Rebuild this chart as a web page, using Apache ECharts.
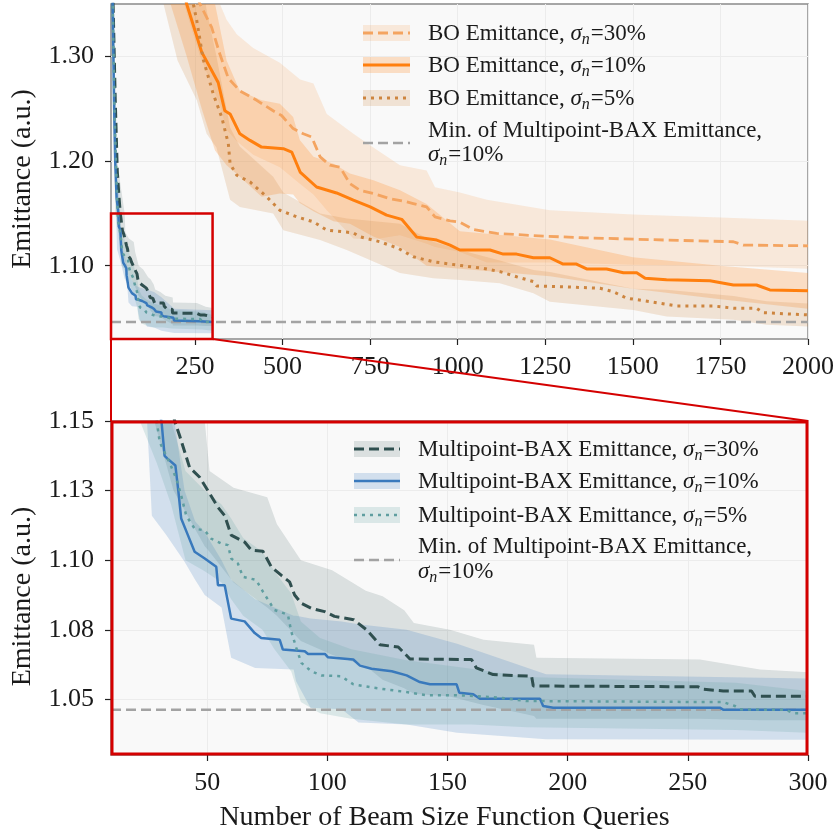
<!DOCTYPE html>
<html><head><meta charset="utf-8">
<script src="https://cdn.jsdelivr.net/npm/echarts@6/dist/echarts.min.js"></script>
<style>html,body{margin:0;padding:0;background:#fff}#c{width:834px;height:833px}</style>
</head><body><div id="c"></div>
<script>
// ---------- axes ----------
const xTopRange = [10, 2000];
const yTopRange = [1.03, 1.35];
const xBotRange = [10, 300];
const yBotRange = [1.03, 1.15];
const xTopTicks = [250, 500, 750, 1000, 1250, 1500, 1750, 2000];
const xTopTickLabels = ['250', '500', '750', '1000', '1250', '1500', '1750', '2000'];
const yTopTicks = [1.10, 1.20, 1.30];
const yTopTickLabels = ['1.10', '1.20', '1.30'];
const xBotTicks = [50, 100, 150, 200, 250, 300];
const xBotTickLabels = ['50', '100', '150', '200', '250', '300'];
const yBotTicks = [1.05, 1.075, 1.10, 1.125, 1.15];
const yBotTickLabels = ['1.05', '1.08', '1.10', '1.13', '1.15'];
const minEmittance = 1.0463;

// ---------- BO mean curves [queries, emittance] ----------
const bo30 = [[240,1.37],[264,1.35],[297,1.328],[321,1.302],[345,1.279],[378,1.267],[426,1.258],[473,1.248],[497,1.2435],[530,1.231],[559,1.226],[583,1.223],[607,1.204],[635,1.196],[664,1.194],[692,1.1785],[721,1.172],[759,1.169],[807,1.164],[854,1.161],[873,1.1594],[911,1.1562],[935,1.1467],[978,1.1429],[1006,1.1416],[1044,1.1347],[1111,1.1308],[1244,1.1283],[1358,1.1267],[1596,1.1245],[1787,1.1229],[1815,1.1197],[2000,1.119]];
const bo10 = [[205,1.38],[226,1.35],[269,1.304],[316,1.275],[335,1.248],[350,1.245],[378,1.226],[407,1.2197],[440,1.2133],[502,1.2118],[526,1.2086],[550,1.1895],[597,1.1752],[654,1.1695],[702,1.1626],[750,1.1562],[797,1.1483],[840,1.1443],[883,1.1273],[940,1.1245],[978,1.1197],[1006,1.115],[1092,1.115],[1130,1.1111],[1168,1.1111],[1216,1.1076],[1263,1.1076],[1301,1.1016],[1339,1.1016],[1368,1.0969],[1425,1.0969],[1473,1.0933],[1511,1.0933],[1535,1.088],[1596,1.0865],[1720,1.0857],[1787,1.0816],[1853,1.0816],[1891,1.0769],[2000,1.076]];
const bo5 = [[235,1.38],[245,1.35],[255,1.334],[273,1.2975],[302,1.264],[326,1.242],[345,1.2166],[350,1.1975],[369,1.1864],[407,1.18],[455,1.1657],[492,1.153],[540,1.1467],[588,1.1419],[626,1.134],[702,1.1314],[721,1.1276],[778,1.1229],[830,1.1166],[873,1.1086],[930,1.1038],[997,1.1007],[1073,1.0975],[1121,1.0943],[1168,1.0895],[1216,1.0848],[1225,1.0807],[1292,1.08],[1406,1.0785],[1444,1.0752],[1482,1.069],[1549,1.0657],[1625,1.0616],[1730,1.0616],[1787,1.0594],[1853,1.0594],[1872,1.0552],[2000,1.053]];

// ---------- BO bands ----------
const bo30BandX  = [200,264,321,340,369,416,492,550,588,626,702,759,835,911,935,1006,1083,1263,1500,1750,2000];
const bo30BandUp = [1.45,1.40,1.35,1.335,1.321,1.308,1.294,1.278,1.274,1.245,1.226,1.213,1.196,1.191,1.175,1.170,1.163,1.153,1.149,1.146,1.143];
const bo30BandLo = [1.37,1.30,1.254,1.23,1.219,1.206,1.194,1.178,1.168,1.153,1.126,1.125,1.129,1.121,1.118,1.113,1.103,1.103,1.101,1.100,1.097];
const bo10BandX  = [180,226,269,307,340,378,440,492,530,549,588,645,692,759,835,911,1006,1263,1500,1750,2000];
const bo10BandUp = [1.50,1.42,1.38,1.35,1.296,1.267,1.258,1.2547,1.242,1.22,1.204,1.1975,1.188,1.1816,1.172,1.159,1.133,1.125,1.108,1.10,1.093];
const bo10BandLo = [1.35,1.30,1.25,1.21,1.196,1.185,1.166,1.169,1.168,1.16,1.152,1.1425,1.14,1.128,1.118,1.10,1.097,1.09,1.078,1.068,1.059];
const bo5BandX  = [160,200,255,283,311,350,378,473,502,607,683,835,930,1006,1120,1216,1263,1501,1596,1787,1882,2000];
const bo5BandUp = [1.50,1.46,1.41,1.344,1.30,1.232,1.214,1.185,1.17,1.15,1.145,1.14,1.123,1.115,1.105,1.096,1.094,1.078,1.077,1.071,1.066,1.064];
const bo5BandLo = [1.35,1.296,1.258,1.226,1.213,1.163,1.156,1.150,1.134,1.1245,1.115,1.093,1.088,1.0864,1.0832,1.0737,1.0657,1.0578,1.0514,1.0483,1.0435,1.042];

// ---------- Multipoint-BAX mean curves ----------
const mp30 = [[10,1.48],[16,1.35],[22,1.26],[28,1.19],[33,1.165],[36.5,1.15],[38.6,1.1446],[42.7,1.1333],[46.9,1.1298],[50.3,1.125],[54.5,1.119],[57.3,1.116],[60,1.109],[65.6,1.1065],[68.4,1.1036],[73.2,1.1032],[76.7,1.0976],[80.8,1.0946],[84.3,1.0922],[86.4,1.0875],[89.2,1.0845],[93.3,1.0827],[98.9,1.0815],[103,1.0798],[111,1.0786],[116.3,1.075],[121.9,1.0696],[129.5,1.0688],[134.4,1.0645],[160,1.0643],[162,1.0613],[169,1.0589],[185,1.0583],[185.7,1.0548],[254.3,1.0545],[256.4,1.0536],[264.7,1.053],[276.5,1.053],[277.9,1.0511],[300,1.0511]];
const mp10 = [[10,1.44],[14.8,1.35],[18.6,1.258],[22,1.20],[26,1.165],[31,1.15],[32.3,1.1375],[33.5,1.1365],[36.8,1.134],[38,1.125],[39.2,1.115],[42,1.109],[44.8,1.103],[49,1.1006],[53.8,1.0976],[54.5,1.091],[57.3,1.091],[60,1.079],[65.6,1.078],[69.8,1.0738],[72.5,1.072],[80.2,1.0714],[81.5,1.0679],[90.6,1.0673],[92,1.0663],[99,1.0663],[100.3,1.0651],[110.8,1.0643],[113.6,1.0621],[118.4,1.061],[126.8,1.0601],[133,1.0586],[138.5,1.0562],[142.7,1.0554],[153.8,1.0554],[154.9,1.0524],[160.7,1.0518],[163.5,1.0502],[188.5,1.0502],[189.8,1.0476],[194,1.047],[263.3,1.047],[264.7,1.0463],[300,1.0463]];
const mp5 = [[10,1.44],[15,1.35],[20,1.25],[24,1.20],[29,1.15],[30.3,1.1423],[34.4,1.135],[37.2,1.1292],[39.2,1.1232],[41.3,1.116],[44.8,1.1113],[49,1.1107],[51.7,1.1077],[55.9,1.106],[58.7,1.1054],[60,1.1006],[62.8,1.0988],[64.9,1.094],[70.4,1.0929],[73.2,1.0887],[78,1.0821],[83.6,1.0804],[85,1.0744],[87.1,1.0685],[89.2,1.0631],[93.3,1.0601],[97.5,1.0586],[105.8,1.0583],[110.8,1.0554],[119,1.0542],[133,1.0526],[141.3,1.0515],[153.8,1.0515],[160.7,1.0512],[171.8,1.0506],[182.9,1.0494],[264.7,1.049],[269.6,1.0476],[271.6,1.0464],[291,1.0462],[293.8,1.045],[300,1.045]];

// ---------- Multipoint-BAX bands ----------
const mp30BandX  = [10,20,28,36,49,51,61,75,79,89,102,116,123,132,136,151,165,186,187,255,280,300];
const mp30BandUp = [1.55,1.30,1.20,1.18,1.15,1.132,1.126,1.1226,1.113,1.10,1.0964,1.089,1.087,1.082,1.0774,1.075,1.0714,1.0696,1.0649,1.0643,1.0607,1.0597];
const mp30BandLo = [1.40,1.24,1.15,1.125,1.105,1.103,1.092,1.083,1.080,1.071,1.066,1.062,1.057,1.054,1.052,1.051,1.048,1.044,1.043,1.043,1.0425,1.0425];
const mp10BandX  = [10,18,25,27,33,40.6,45,49,56,60,70,86,87,93,106,113,133,154,191,300];
const mp10BandUp = [1.52,1.32,1.19,1.18,1.17,1.125,1.114,1.11,1.10,1.093,1.086,1.08,1.08,1.079,1.078,1.077,1.075,1.070,1.059,1.0575];
const mp10BandLo = [1.38,1.22,1.15,1.116,1.109,1.0994,1.093,1.0875,1.083,1.0649,1.0613,1.0607,1.0565,1.047,1.0464,1.0417,1.041,1.038,1.0357,1.0355];
const mp5BandX  = [10,22,29,35,41,49,56,60,65,73,78,85,89,97,110,133,160,183,270,300];
const mp5BandUp = [1.50,1.19,1.165,1.15,1.132,1.125,1.12,1.115,1.108,1.103,1.096,1.088,1.078,1.072,1.068,1.064,1.061,1.058,1.056,1.053];
const mp5BandLo = [1.40,1.15,1.135,1.12,1.10,1.096,1.092,1.086,1.08,1.075,1.068,1.06,1.049,1.045,1.043,1.041,1.041,1.040,1.039,1.038];

// ---------- style ----------
const FONT = '"Liberation Serif", "Times New Roman", serif';
const TXT = '#1a1a1a';
const C = {
  bo30: '#f4a460', bo10: '#ff7f0e', bo5: '#cd853f',
  mp30: '#2f4f4f', mp10: '#3979bc', mp5: '#5f9ea0', min: '#a3a3a3'
};
const F = {
  bo30: 'rgba(244,164,96,0.2)', bo10: 'rgba(255,140,40,0.25)', bo5: 'rgba(205,133,63,0.2)',
  mp30: 'rgba(47,79,79,0.15)', mp10: 'rgba(57,121,188,0.2)', mp5: 'rgba(95,158,160,0.2)'
};
const DASH = [10, 5], DOT = [3, 5];

function band(gi, xs, up, lo, color) {
  return {
    type: 'custom', xAxisIndex: gi, yAxisIndex: gi, z: 1, silent: true, clip: true,
    data: [[xs[xs.length - 1], lo[lo.length - 1]]],
    encode: { x: 0, y: 1 },
    renderItem: function (params, api) {
      const pts = [];
      for (let i = 0; i < xs.length; i++) pts.push(api.coord([xs[i], up[i]]));
      for (let i = xs.length - 1; i >= 0; i--) pts.push(api.coord([xs[i], lo[i]]));
      const cs = params.coordSys;
      return {
        type: 'polygon', shape: { points: pts }, style: { fill: color },
        clipPath: { type: 'rect', shape: { x: cs.x, y: cs.y, width: cs.width, height: cs.height } }
      };
    }
  };
}
function line(gi, data, color, width, type) {
  return {
    type: 'line', xAxisIndex: gi, yAxisIndex: gi, data: data, z: 3, clip: true,
    showSymbol: false, symbol: 'none', silent: true,
    lineStyle: { color: color, width: width, type: type || 'solid', cap: 'butt' }
  };
}
function minLine(gi, xr) {
  return line(gi, [[xr[0], minEmittance], [xr[1], minEmittance]], C.min, 2.5, DASH);
}
function fmt(ticks, labels) {
  return function (v) {
    const i = ticks.findIndex(t => Math.abs(t - v) < 1e-9);
    return i >= 0 ? labels[i] : '';
  };
}
function xAxis(gi, r, ticks, labels) {
  return {
    type: 'value', gridIndex: gi, min: r[0], max: r[1],
    axisLine: { show: false },
    axisTick: { show: true, customValues: ticks, length: 6, lineStyle: { color: '#222', width: 1.2 } },
    axisLabel: { customValues: ticks, fontSize: 26, fontFamily: FONT, color: TXT, margin: 15, formatter: fmt(ticks, labels) },
    splitLine: { show: true, lineStyle: { color: '#ececec', width: 1 } }
  };
}
function yAxis(gi, r, ticks, labels, pad) {
  return {
    type: 'value', gridIndex: gi, min: r[0], max: r[1],
    name: 'Emittance (a.u.)', nameLocation: 'middle', nameGap: 74,
    nameTextStyle: { fontSize: 28, fontFamily: FONT, color: TXT, padding: [0, pad, 0, 0] },
    axisLine: { show: false },
    axisTick: { show: true, customValues: ticks, length: 6, lineStyle: { color: '#222', width: 1.2 } },
    axisLabel: { customValues: ticks, fontSize: 26, fontFamily: FONT, color: TXT, margin: 17, formatter: fmt(ticks, labels) },
    splitLine: { show: true, lineStyle: { color: '#ececec', width: 1 } }
  };
}

const chart = echarts.init(document.getElementById('c'), null, { renderer: 'canvas' });
const gridBase = { left: 111, width: 697, show: true, backgroundColor: '#f9f9f9', borderColor: '#8a8a8a', borderWidth: 1.5, containLabel: false, outerBoundsMode: 'none' };

const xb = xAxis(1, xBotRange, xBotTicks, xBotTickLabels);
xb.name = 'Number of Beam Size Function Queries';
xb.nameLocation = 'middle';
xb.nameGap = 49;
xb.nameTextStyle = { fontSize: 28, fontFamily: FONT, color: TXT, padding: [0, 30, 0, 0] };

chart.setOption({
  animation: false,
  backgroundColor: '#ffffff',
  grid: [
    Object.assign({}, gridBase, { top: 4, height: 335 }),
    Object.assign({}, gridBase, { top: 421, height: 334 })
  ],
  xAxis: [xAxis(0, xTopRange, xTopTicks, xTopTickLabels), xb],
  yAxis: [yAxis(0, yTopRange, yTopTicks, yTopTickLabels, 15), yAxis(1, yBotRange, yBotTicks, yBotTickLabels, 17)],
  series: [
    // top panel
    band(0, bo30BandX, bo30BandUp, bo30BandLo, F.bo30),
    band(0, bo10BandX, bo10BandUp, bo10BandLo, F.bo10),
    band(0, bo5BandX, bo5BandUp, bo5BandLo, F.bo5),
    band(0, mp30BandX, mp30BandUp, mp30BandLo, F.mp30),
    band(0, mp10BandX, mp10BandUp, mp10BandLo, F.mp10),
    band(0, mp5BandX, mp5BandUp, mp5BandLo, F.mp5),
    minLine(0, xTopRange),
    line(0, bo30, C.bo30, 2.8, DASH),
    line(0, bo10, C.bo10, 3),
    line(0, bo5, C.bo5, 3, DOT),
    line(0, mp30, C.mp30, 3, DASH),
    line(0, mp10, C.mp10, 2.5),
    line(0, mp5, C.mp5, 2.5, DOT),
    // bottom panel
    band(1, mp30BandX, mp30BandUp, mp30BandLo, F.mp30),
    band(1, mp10BandX, mp10BandUp, mp10BandLo, F.mp10),
    band(1, mp5BandX, mp5BandUp, mp5BandLo, F.mp5),
    minLine(1, xBotRange),
    line(1, mp30, C.mp30, 3, DASH),
    line(1, mp10, C.mp10, 2.5),
    line(1, mp5, C.mp5, 2.5, DOT)
  ]
});

// ---------- zoom indication & legends ----------
const p = (gi, v) => chart.convertToPixel({ gridIndex: gi }, v);
const tl0 = p(0, [xBotRange[0], yBotRange[1]]), br0 = p(0, [xBotRange[1], yBotRange[0]]);
const tl1 = p(1, [xBotRange[0], yBotRange[1]]), br1 = p(1, [xBotRange[1], yBotRange[0]]);
const RED = '#d40000';
const g = [];
g.push({ type: 'rect', z: 50, silent: true, shape: { x: tl0[0], y: tl0[1], width: br0[0] - tl0[0], height: br0[1] - tl0[1] }, style: { fill: 'none', stroke: RED, lineWidth: 2.5 } });
g.push({ type: 'rect', z: 50, silent: true, shape: { x: tl1[0] + 1, y: tl1[1] + 1, width: br1[0] - tl1[0] - 2, height: br1[1] - tl1[1] - 2 }, style: { fill: 'none', stroke: RED, lineWidth: 3 } });
g.push({ type: 'line', z: 50, silent: true, shape: { x1: tl0[0], y1: br0[1], x2: tl1[0], y2: tl1[1] }, style: { stroke: RED, lineWidth: 2 } });
g.push({ type: 'line', z: 50, silent: true, shape: { x1: br0[0], y1: br0[1], x2: br1[0], y2: tl1[1] }, style: { stroke: RED, lineWidth: 2 } });

const LF = 23;
const rich = {
  s: { fontFamily: FONT, fontStyle: 'italic', fontSize: LF, fill: TXT, lineHeight: 27 },
  n: { fontFamily: FONT, fontStyle: 'italic', fontSize: 16, fill: TXT, lineHeight: 27, verticalAlign: 'bottom', padding: [0, 1, 0, 0] }
};
function ltext(x, y, str) {
  return { type: 'text', z: 60, silent: true, x: x, y: y, style: { text: str, fontFamily: FONT, fontSize: LF, fill: TXT, verticalAlign: 'middle', lineHeight: 27, rich: rich } };
}
function handle(x, y, w, fill, color, width, dash) {
  const arr = [];
  if (fill) arr.push({ type: 'rect', z: 60, silent: true, shape: { x: x, y: y - 8, width: w, height: 16 }, style: { fill: fill } });
  arr.push({ type: 'line', z: 61, silent: true, shape: { x1: x, y1: y, x2: x + w, y2: y }, style: { stroke: color, lineWidth: width, lineDash: dash || null } });
  return arr;
}
const topLeg = [
  ['BO Emittance, {s|σ}{n|n}=30%', F.bo30, C.bo30, 2.8, DASH, 33],
  ['BO Emittance, {s|σ}{n|n}=10%', F.bo10, C.bo10, 3, null, 65],
  ['BO Emittance, {s|σ}{n|n}=5%', F.bo5, C.bo5, 3, DOT, 98]
];
topLeg.forEach(it => { g.push(...handle(363, it[5], 47, it[1], it[2], it[3], it[4])); g.push(ltext(428, it[5] + 1, it[0])); });
g.push(...handle(363, 143, 47, null, C.min, 2.5, DASH));
g.push(ltext(428, 131, 'Min. of Multipoint-BAX Emittance,'));
g.push(ltext(428, 155, '{s|σ}{n|n}=10%'));

const botLeg = [
  ['Multipoint-BAX Emittance, {s|σ}{n|n}=30%', F.mp30, C.mp30, 3, DASH, 449],
  ['Multipoint-BAX Emittance, {s|σ}{n|n}=10%', F.mp10, C.mp10, 2.5, null, 481],
  ['Multipoint-BAX Emittance, {s|σ}{n|n}=5%', F.mp5, C.mp5, 2.5, DOT, 515]
];
botLeg.forEach(it => { g.push(...handle(354, it[5], 46, it[1], it[2], it[3], it[4])); g.push(ltext(418, it[5] + 1, it[0])); });
g.push(...handle(354, 560, 46, null, C.min, 2.5, DASH));
g.push(ltext(418, 547, 'Min. of Multipoint-BAX Emittance,'));
g.push(ltext(418, 572, '{s|σ}{n|n}=10%'));

chart.setOption({ graphic: g });
</script>
</body></html>
